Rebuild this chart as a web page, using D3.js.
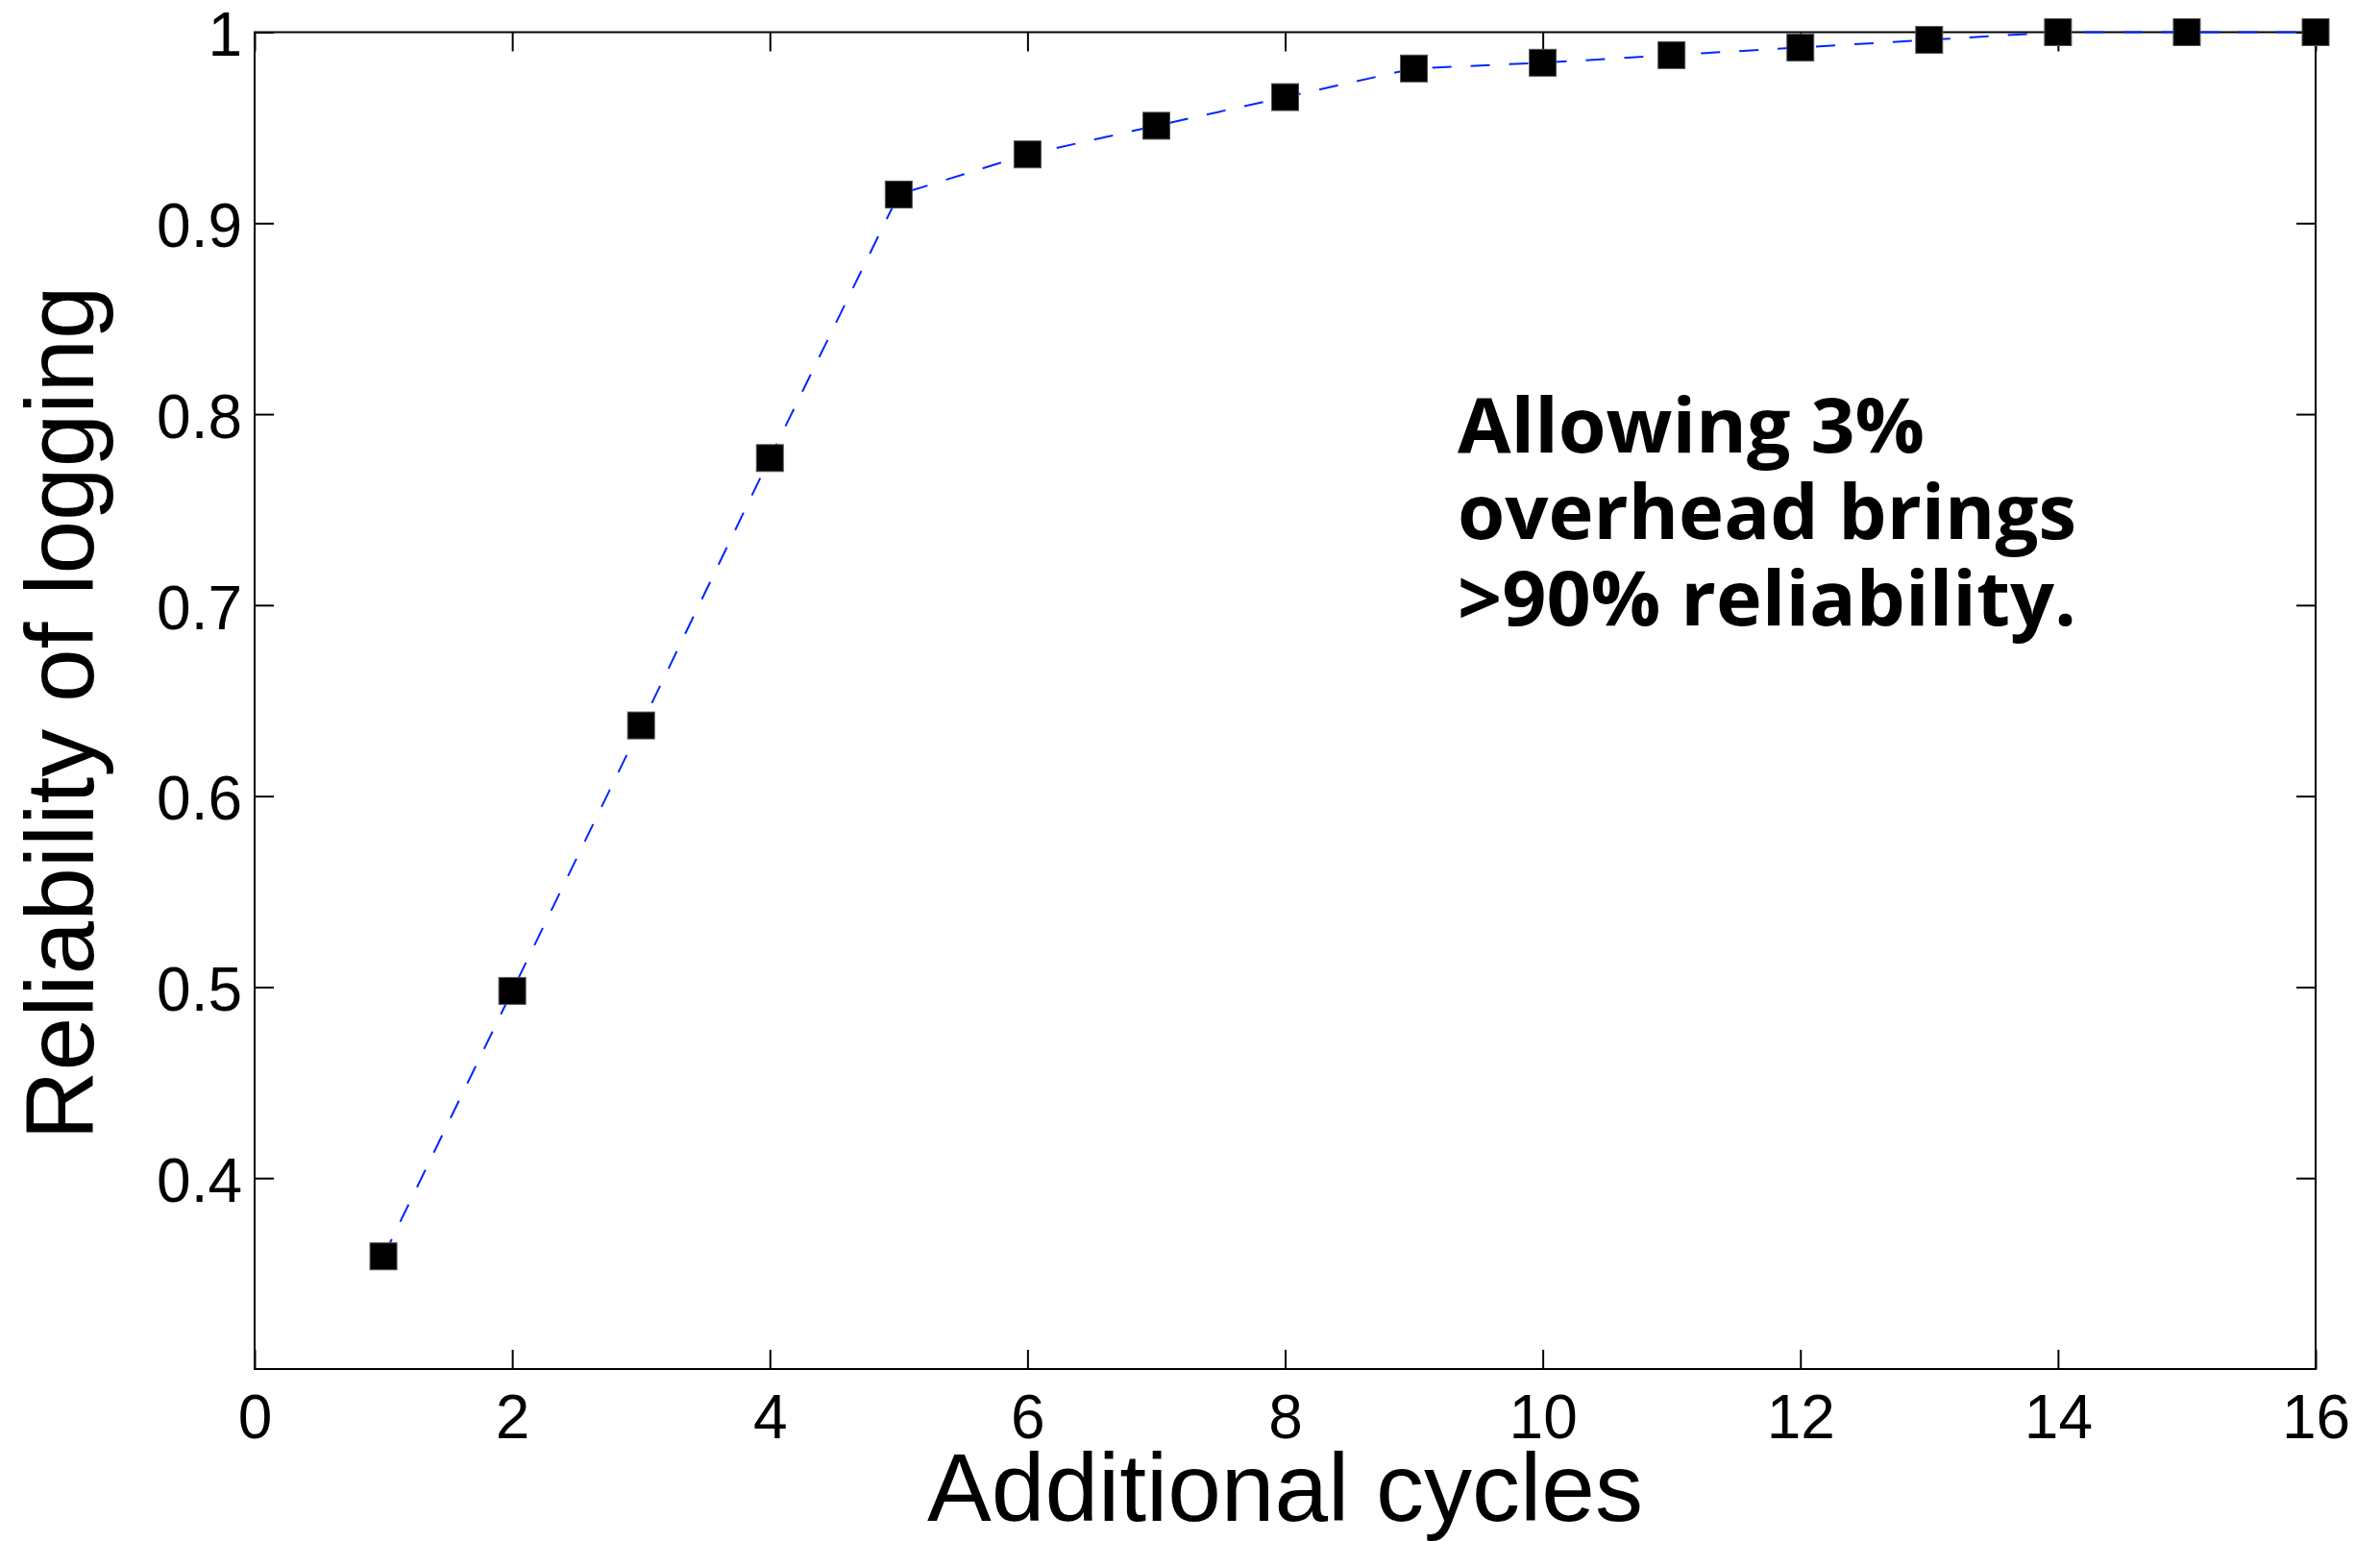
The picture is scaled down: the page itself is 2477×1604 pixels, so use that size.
<!DOCTYPE html>
<html lang="en">
	<head>
		<meta charset="UTF-8" />
		<title>Reliability of logging</title>
		<script src="https://d3js.org/d3.v7.min.js"></script>
		<style>
			body { margin: 0; background: #fff; }
			.axis text { font-family: "Liberation Sans", Arial, Helvetica, sans-serif; font-size: 64px; fill: #000; }
			.axis line { stroke: #000; stroke-width: 2px; }
		</style>
	</head>
	<body>
		<script>
			var w = 2477;
			var h = 1604;

			// data
			var cycles = [1, 2, 3, 4, 5, 6, 7, 8, 9, 10, 11, 12, 13, 14, 15, 16];
			var reliability = [0.359, 0.498, 0.637, 0.777, 0.915, 0.936, 0.951, 0.966, 0.981, 0.984, 0.988, 0.992, 0.996, 1.0, 1.0, 1.0];
			var xTicks = [0, 2, 4, 6, 8, 10, 12, 14, 16];
			var yTicks = [0.4, 0.5, 0.6, 0.7, 0.8, 0.9, 1];
			var noteLines = ["Allowing 3%", "overhead brings", ">90% reliability."];

			// plot box (note: "top" is reserved on window, so prefix these)
			var plotL = 265, plotR = 2410, plotT = 33.5, plotB = 1425;

			var xScale = d3.scaleLinear().domain([0, 16]).range([plotL, plotR]);
			var yScale = d3.scaleLinear().domain([0.3, 1]).range([plotB, plotT]);

			var svg = d3.select("body")
				.append("svg")
				.attr("width", w)
				.attr("height", h);

			svg.append("rect")
				.attr("width", w)
				.attr("height", h)
				.attr("fill", "#fff");

			// axes, ticks pointing inwards on all four sides
			svg.append("g")
				.attr("class", "axis")
				.attr("transform", "translate(0," + plotB + ")")
				.call(d3.axisBottom(xScale).tickValues(xTicks).tickSizeInner(-20).tickSizeOuter(0).tickPadding(27))
				.call(function (g) { g.select(".domain").remove(); });

			svg.append("g")
				.attr("class", "axis")
				.attr("transform", "translate(0," + plotT + ")")
				.call(d3.axisTop(xScale).tickValues(xTicks).tickSizeInner(-20).tickSizeOuter(0).tickFormat(""))
				.call(function (g) { g.select(".domain").remove(); });

			svg.append("g")
				.attr("class", "axis")
				.attr("transform", "translate(" + plotL + ",0)")
				.call(d3.axisLeft(yScale).tickValues(yTicks).tickSizeInner(-20).tickSizeOuter(0).tickPadding(13).tickFormat(d3.format("")))
				.call(function (g) {
					g.select(".domain").remove();
					g.selectAll("text").attr("dy", "0.38em");
				});

			svg.append("g")
				.attr("class", "axis")
				.attr("transform", "translate(" + plotR + ",0)")
				.call(d3.axisRight(yScale).tickValues(yTicks).tickSizeInner(-20).tickSizeOuter(0).tickFormat(""))
				.call(function (g) { g.select(".domain").remove(); });

			svg.append("rect")
				.attr("x", plotL)
				.attr("y", plotT)
				.attr("width", plotR - plotL)
				.attr("height", plotB - plotT)
				.attr("fill", "none")
				.attr("stroke", "#000")
				.attr("stroke-width", 2);

			// dashed connecting line
			var line = d3.line()
				.x(function (d, i) { return xScale(cycles[i]); })
				.y(function (d) { return yScale(d); });

			svg.append("path")
				.datum(reliability)
				.attr("d", line)
				.attr("fill", "none")
				.attr("stroke", "#0026ff")
				.attr("stroke-width", 2)
				.attr("stroke-dasharray", "20,20");

			// square markers
			var ms = 28;
			svg.selectAll("rect.marker")
				.data(reliability)
				.enter()
				.append("rect")
				.attr("class", "marker")
				.attr("x", function (d, i) { return xScale(cycles[i]) - ms / 2; })
				.attr("y", function (d) { return yScale(d) - ms / 2; })
				.attr("width", ms)
				.attr("height", ms)
				.attr("fill", "#000")
				.attr("stroke", "#555")
				.attr("stroke-width", 1);

			// axis titles
			svg.append("text")
				.attr("x", (plotL + plotR) / 2)
				.attr("y", 1583)
				.attr("text-anchor", "middle")
				.attr("font-family", "Liberation Sans, Arial, Helvetica, sans-serif")
				.attr("font-size", "100px")
				.text("Additional cycles");

			svg.append("text")
				.attr("transform", "translate(97,742) rotate(-90)")
				.attr("text-anchor", "middle")
				.attr("font-family", "Liberation Sans, Arial, Helvetica, sans-serif")
				.attr("font-size", "100px")
				.text("Reliability of logging");

			// annotation
			var noteWidths = [486, 644, 644];
			svg.selectAll("text.note")
				.data(noteLines)
				.enter()
				.append("text")
				.attr("class", "note")
				.attr("x", 1517)
				.attr("y", function (d, i) { return 471 + i * 90; })
				.attr("font-family", "Open Sans, Noto Sans, sans-serif")
				.attr("font-weight", "bold")
				.attr("font-size", "78px")
				.attr("textLength", function (d, i) { return noteWidths[i]; })
				.attr("lengthAdjust", "spacingAndGlyphs")
				.text(function (d) { return d; });
		</script>
	</body>
</html>
